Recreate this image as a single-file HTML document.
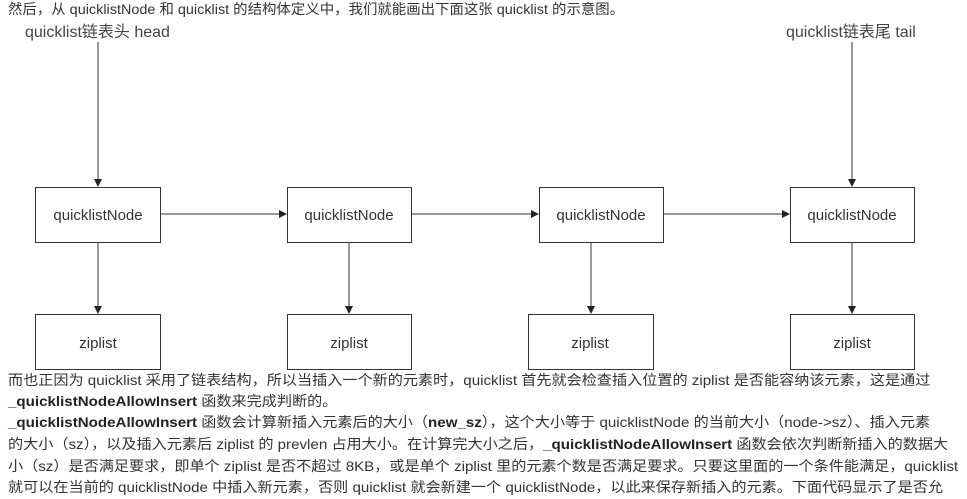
<!DOCTYPE html>
<html><head><meta charset="utf-8"><style>
body{margin:0;width:967px;height:495px;overflow:hidden;background:#fff;position:relative;font-family:"Liberation Sans","Noto Sans CJK SC",sans-serif;color:#333}
.t{position:absolute;left:8px;font-size:14px;white-space:nowrap;line-height:21.6px;transform-origin:0 0;transform:scaleX(1.08)}
b{color:#222}
svg{position:absolute;left:0;top:0}
</style></head><body>
<div class="t" style="top:-1px;transform:scaleX(1.03)">然后，从 quicklistNode 和 quicklist 的结构体定义中，我们就能画出下面这张 quicklist 的示意图。</div>
<svg width="967" height="375" font-family="Liberation Sans, Noto Sans CJK SC, sans-serif">
<defs><marker id="a" markerWidth="8" markerHeight="8" refX="7" refY="4" orient="auto" markerUnits="userSpaceOnUse"><path d="M0,0 L8,4 L0,8 Z" fill="#222"/></marker></defs>
<g fill="#444" font-size="16">
<text x="25" y="37">quicklist链表头 head</text>
<text x="786" y="37">quicklist链表尾 tail</text>
</g>
<g stroke="#333" stroke-width="1" fill="none">
<line x1="98" y1="42" x2="98" y2="186" marker-end="url(#a)"/>
<line x1="852" y1="42" x2="852" y2="186" marker-end="url(#a)"/>
<line x1="161" y1="214" x2="286" y2="214" marker-end="url(#a)"/>
<line x1="412" y1="214" x2="538" y2="214" marker-end="url(#a)"/>
<line x1="664" y1="214" x2="789" y2="214" marker-end="url(#a)"/>
<line x1="98" y1="242" x2="98" y2="313" marker-end="url(#a)"/>
<line x1="349" y1="242" x2="349" y2="313" marker-end="url(#a)"/>
<line x1="591" y1="242" x2="591" y2="313" marker-end="url(#a)"/>
<line x1="852" y1="242" x2="852" y2="313" marker-end="url(#a)"/>
<rect x="35.5" y="187.5" width="125" height="55"/>
<rect x="287.5" y="187.5" width="124" height="55"/>
<rect x="539.5" y="187.5" width="124" height="55"/>
<rect x="790.5" y="187.5" width="124" height="55"/>
<rect x="35.5" y="314.5" width="125" height="55"/>
<rect x="287.5" y="314.5" width="124" height="55"/>
<rect x="528.5" y="314.5" width="125" height="55"/>
<rect x="790.5" y="314.5" width="124" height="55"/>
</g>
<g fill="#333" font-size="15" text-anchor="middle">
<text x="98" y="220">quicklistNode</text>
<text x="349" y="220">quicklistNode</text>
<text x="601" y="220">quicklistNode</text>
<text x="852" y="220">quicklistNode</text>
<text x="98" y="348">ziplist</text>
<text x="349" y="348">ziplist</text>
<text x="590" y="348">ziplist</text>
<text x="852" y="348">ziplist</text>
</g>
</svg>
<div class="t" style="top:370px">而也正因为 quicklist 采用了链表结构，所以当插入一个新的元素时，quicklist 首先就会检查插入位置的 ziplist 是否能容纳该元素，这是通过</div>
<div class="t" style="top:391px"><b>_quicklistNodeAllowInsert</b> 函数来完成判断的。</div>
<div class="t" style="top:412px"><b>_quicklistNodeAllowInsert</b> 函数会计算新插入元素后的大小（<b>new_sz</b>），这个大小等于 quicklistNode 的当前大小（node-&gt;sz）、插入元素</div>
<div class="t" style="top:434px">的大小（sz），以及插入元素后 ziplist 的 prevlen 占用大小。在计算完大小之后，<b>_quicklistNodeAllowInsert</b> 函数会依次判断新插入的数据大</div>
<div class="t" style="top:456px">小（sz）是否满足要求，即单个 ziplist 是否不超过 8KB，或是单个 ziplist 里的元素个数是否满足要求。只要这里面的一个条件能满足，quicklist</div>
<div class="t" style="top:477px">就可以在当前的 quicklistNode 中插入新元素，否则 quicklist 就会新建一个 quicklistNode，以此来保存新插入的元素。下面代码显示了是否允</div>
</body></html>
